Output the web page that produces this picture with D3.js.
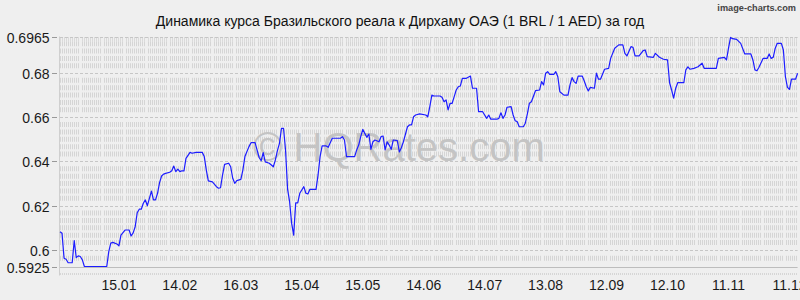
<!DOCTYPE html>
<html><head><meta charset="utf-8">
<script src="https://cdn.jsdelivr.net/npm/d3@7/dist/d3.min.js"></script>
<style>
html,body{margin:0;padding:0;background:#efefef;}
svg{display:block;font-family:"Liberation Sans",Arial,sans-serif;}
</style></head>
<body>
<svg id="c" width="800" height="300"></svg>
<script>
const titleText = "Динамика курса Бразильского реала к Дирхаму ОАЭ (1 BRL / 1 AED) за год";
const startDate = "2024-12-17";
const endDate = "2025-12-15";
const dayOffsets = [0,1,2,3,4,6,7,8,9,10,11,12,23,24,25,26,28,29,30,32,34,35,36,37,38,39,40,41,42,43,44,45,46,47,48,49,50,51,52,54,55,56,57,58,59,60,61,62,64,65,67,70,71,72,73,75,77,78,79,80,81,83,84,85,86,87,89,90,91,93,94,96,98,99,100,101,103,105,106,107,108,109,110,111,112,113,114,115,116,117,118,120,121,122,123,126,127,128,129,131,132,134,138,139,140,141,145,146,147,148,149,150,151,152,153,154,155,157,158,159,160,161,162,163,164,166,167,168,169,171,172,173,174,175,177,180,181,182,183,184,187,188,189,190,191,192,193,194,195,196,197,198,200,202,203,205,206,208,210,211,212,215,216,217,218,219,220,222,223,224,225,226,228,229,230,231,232,234,236,237,238,239,240,241,243,244,245,246,248,250,251,252,253,254,255,257,258,259,260,261,263,264,265,266,268,270,271,273,275,277,278,279,281,282,283,285,287,288,289,292,293,295,297,299,300,301,302,303,304,307,308,309,310,312,314,316,317,323,324,327,328,329,330,331,333,335,337,340,341,342,343,344,346,348,349,350,351,352,353,355,356,357,358,359,360,362,363];
const rates = [0.6082,0.6075,0.5962,0.5958,0.5942,0.5942,0.6042,0.5965,0.5973,0.5970,0.5955,0.5925,0.5925,0.5992,0.6031,0.6034,0.6027,0.6018,0.6067,0.6090,0.6090,0.6063,0.6077,0.6105,0.6168,0.6184,0.6184,0.6211,0.6226,0.6200,0.6233,0.6266,0.6226,0.6226,0.6256,0.6304,0.6334,0.6343,0.6346,0.6351,0.6358,0.6379,0.6354,0.6365,0.6354,0.6358,0.6357,0.6414,0.6441,0.6437,0.6441,0.6441,0.6422,0.6361,0.6312,0.6308,0.6286,0.6279,0.6281,0.6339,0.6387,0.6392,0.6376,0.6324,0.6301,0.6313,0.6319,0.6361,0.6422,0.6467,0.6485,0.6485,0.6418,0.6403,0.6440,0.6398,0.6392,0.6376,0.6407,0.6449,0.6482,0.6550,0.6550,0.6452,0.6275,0.6218,0.6120,0.6067,0.6213,0.6213,0.6256,0.6286,0.6256,0.6253,0.6274,0.6274,0.6339,0.6422,0.6470,0.6470,0.6464,0.6505,0.6505,0.6512,0.6497,0.6422,0.6422,0.6452,0.6474,0.6512,0.6545,0.6527,0.6509,0.6524,0.6455,0.6489,0.6497,0.6489,0.6512,0.6515,0.6452,0.6489,0.6474,0.6455,0.6497,0.6494,0.6443,0.6462,0.6489,0.6557,0.6565,0.6565,0.6602,0.6610,0.6615,0.6610,0.6602,0.6648,0.6700,0.6696,0.6696,0.6690,0.6670,0.6678,0.6633,0.6663,0.6663,0.6693,0.6723,0.6738,0.6741,0.6776,0.6776,0.6786,0.6731,0.6731,0.6625,0.6625,0.6595,0.6610,0.6591,0.6591,0.6595,0.6620,0.6595,0.6610,0.6645,0.6648,0.6610,0.6584,0.6580,0.6557,0.6557,0.6573,0.6615,0.6663,0.6670,0.6720,0.6723,0.6761,0.6746,0.6799,0.6806,0.6794,0.6794,0.6806,0.6783,0.6715,0.6700,0.6700,0.6746,0.6779,0.6761,0.6753,0.6786,0.6786,0.6764,0.6738,0.6719,0.6735,0.6731,0.6799,0.6772,0.6772,0.6817,0.6821,0.6866,0.6912,0.6927,0.6927,0.6889,0.6877,0.6919,0.6916,0.6877,0.6877,0.6901,0.6904,0.6874,0.6871,0.6889,0.6871,0.6862,0.6859,0.6756,0.6723,0.6686,0.6731,0.6756,0.6756,0.6814,0.6828,0.6817,0.6821,0.6828,0.6844,0.6821,0.6821,0.6866,0.6871,0.6859,0.6912,0.6961,0.6955,0.6952,0.6934,0.6886,0.6886,0.6859,0.6814,0.6810,0.6826,0.6866,0.6866,0.6886,0.6866,0.6871,0.6912,0.6934,0.6934,0.6904,0.6783,0.6735,0.6726,0.6772,0.6772,0.6799];
const xTickDates = ["2025-01-15","2025-02-14","2025-03-16","2025-04-15","2025-05-15","2025-06-14","2025-07-14","2025-08-13","2025-09-12","2025-10-12","2025-11-11","2025-12-11"];
const yTickValues = [0.5925,0.6,0.62,0.64,0.66,0.68,0.6965];
const yTickLabels = ["0.5925","0.6","0.62","0.64","0.66","0.68","0.6965"];
const yDomain = [0.5925,0.6965];

const svg = d3.select("#c");
const parse = d3.timeParse("%Y-%m-%d");
const t0 = parse(startDate), t1 = parse(endDate);
const L = 60, R = 797.6, T = 36.5, B = 266.5;
const x = d3.scaleTime().domain([t0, t1]).range([L, R]);
const y = d3.scaleLinear().domain(yDomain).range([B, T]);
const data = dayOffsets.map((d,i)=>({date:d3.timeDay.offset(t0,d), v:rates[i]}));

// background texture rows
const g = svg.append("g");
const rowYs = [];
const ticksSorted = yTickValues.map(v=>y(v)).sort((a,b)=>a-b);
for (let i=0;i<ticksSorted.length-1;i++){
  const a=ticksSorted[i], b=ticksSorted[i+1];
  const n=Math.max(1,Math.round((b-a)/7.33));
  for(let k=1;k<n;k++) rowYs.push(a+(b-a)*k/n);
}
const dash = "1 1 1 1 1 1 1 1 1 1 1 1 1 1 1 1 1 1 1 3";
g.selectAll("line.row").data(rowYs).join("line")
  .attr("x1",L).attr("x2",R).attr("y1",d=>d).attr("y2",d=>d)
  .attr("stroke","#d5d5d5").attr("stroke-width",5).attr("stroke-dasharray",dash);
g.append("line").attr("x1",L).attr("x2",R).attr("y1",B+7.5).attr("y2",B+7.5)
  .attr("stroke","#d6d6d6").attr("stroke-width",2).attr("stroke-dasharray","1 1");
g.append("line").attr("x1",L).attr("x2",R).attr("y1",T+2.5).attr("y2",T+2.5)
  .attr("stroke","#dadada").attr("stroke-width",4).attr("stroke-dasharray",dash);

// horizontal tick lines
g.selectAll("line.h").data(yTickValues).join("line")
  .attr("x1",L).attr("x2",R).attr("y1",d=>Math.round(y(d))+0.5).attr("y2",d=>Math.round(y(d))+0.5)
  .attr("stroke",(d,i)=>i===0?"#bdbdbd":"#c6c6c6")
  .attr("stroke-dasharray",(d,i)=>i===0?null:"3 2");

g.append("line").attr("x1",L-0.5).attr("x2",L-0.5).attr("y1",T).attr("y2",B+9)
  .attr("stroke","#cfcfcf");

// y ticks & labels
const ya = svg.append("g");
yTickValues.forEach((v,i)=>{
  const yy=Math.round(y(v))+0.5;
  ya.append("line").attr("x1",52).attr("x2",57).attr("y1",yy).attr("y2",yy).attr("stroke","#999");
  ya.append("text").attr("x",49.5).attr("y",yy+5).attr("text-anchor","end")
    .attr("font-size",14).attr("fill","#1a1a1a").text(yTickLabels[i]);
});

// x labels
const fmt = d3.timeFormat("%d.%m");
svg.append("g").selectAll("text").data(xTickDates.map(parse)).join("text")
  .attr("x",d=>x(d)).attr("y",290).attr("text-anchor","middle")
  .attr("font-size",14).attr("fill","#1a1a1a").text(d=>fmt(d));

// watermark
svg.append("text").attr("x",253).attr("y",161).attr("font-size",40)
  .attr("fill","#c4c4c4").text("© HQRates.com");

// line
svg.append("path").datum(data)
  .attr("d",d3.line().x(d=>x(d.date)).y(d=>y(d.v)))
  .attr("fill","none").attr("stroke","#1c1cff").attr("stroke-width",1.2)
  .attr("stroke-linejoin","round");

// title
svg.append("text").attr("x",400).attr("y",26).attr("text-anchor","middle")
  .attr("font-size",14).attr("fill","#111").text(titleText);
svg.append("text").attr("x",796).attr("y",11).attr("text-anchor","end")
  .attr("font-size",9.2).attr("font-weight","bold").attr("fill","#444")
  .text("image-charts.com");
</script>
</body></html>
